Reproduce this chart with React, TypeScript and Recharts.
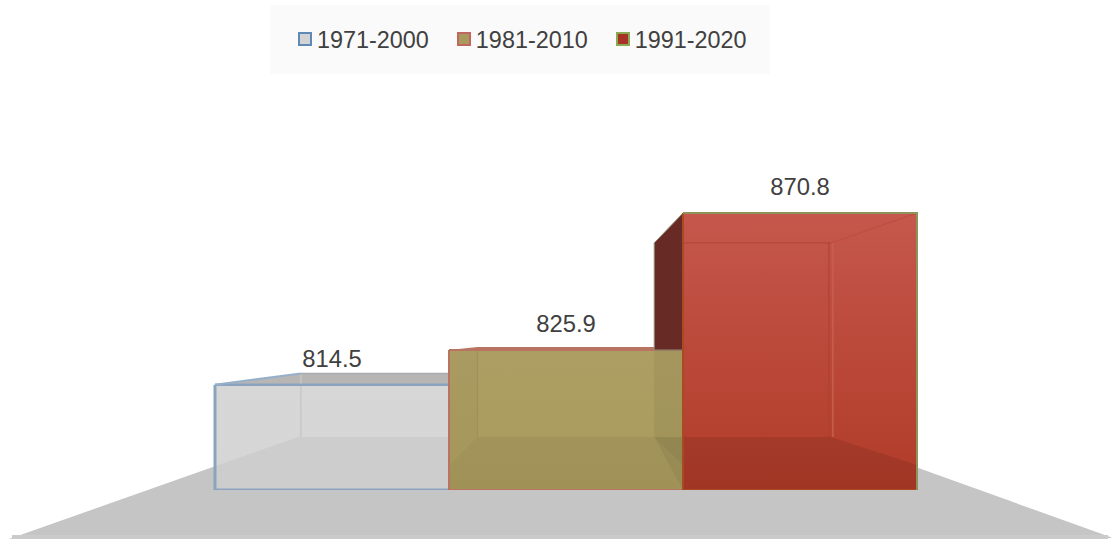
import React from 'react';
import { BarChart, Bar, XAxis, YAxis, Legend, LabelList, usePlotArea } from 'recharts';

const periods = ['1971-2000', '1981-2010', '1991-2020'];
const normals = [814.5, 825.9, 870.8];

const chartData = [
  Object.fromEntries([['category', ''], ...periods.map((p, i) => [p, normals[i]])])
];

const AXIS_MIN = 780;
const AXIS_MAX = 880;
const FONT = '"Liberation Sans", Arial, sans-serif';
const TEXT = '#404040';

const looks = [
  { top: '#cfcfcf', bottom: '#cecece', alpha: 0.84, edge: '#8ba3bf', lid: '#b8b6b5', swatch: '#d3d3d3', swatchEdge: '#5f8ab8' },
  { top: '#ad9f63', bottom: '#a99a5c', alpha: 1, edge: '#b87460', lid: '#b87460', swatch: '#a89a5c', swatchEdge: '#bf6660' },
  { top: '#c5574c', bottom: '#b13b28', alpha: 1, edge: '#8f925a', lid: '#c55a50', swatch: '#a93226', swatchEdge: '#8aab55' }
];

const floorShade = [0, 0.05, 0.09];

const pts = (list: number[][]) => list.map(p => p.join(',')).join(' ');

// perspective of the box, the back wall shrinks to the middle of the plot
const Floor = () => {
  const plot = usePlotArea();
  if (!plot) return null;
  const bottom = plot.y + plot.height;
  const left = plot.x;
  const right = plot.x + plot.width;
  return (
    <g>
      <polygon
        points={pts([
          [left + 83, bottom - 53],
          [right - 84, bottom - 53],
          [right + 197, bottom + 48],
          [left - 206, bottom + 49]
        ])}
        fill="#c5c5c5"
      />
      <rect x={left - 203} y={bottom + 45} width={1096} height={4} fill="#cbcbcb" />
    </g>
  );
};

const Box = (props: any) => {
  const { x, y, width, height, series } = props;
  const look = looks[series];
  const value = normals[series];
  const perUnit = height / (value - AXIS_MIN);
  const base = y + height;
  const mid = 565.5;
  const backX = (px: number) => mid + (px - mid) * 0.755;
  const backTop = y * 0.76 + 81;
  const backBase = base - 53;
  const lx = backX(x);
  const rx = backX(x + width);
  const gid = `box-fill-${series}`;
  const prevTop = series > 0 ? y + (value - normals[series - 1]) * perUnit : base;

  return (
    <g>
      <defs>
        <linearGradient id={gid} x1="0" y1="0" x2="0" y2="1">
          <stop offset="0%" stopColor={look.top} />
          <stop offset="100%" stopColor={look.bottom} />
        </linearGradient>
      </defs>

      {series === 2 && (
        <polygon points={pts([[lx, backTop], [x, y], [x, prevTop], [lx, prevTop]])} fill="#682a25" stroke="#8d8f78" strokeWidth={1} />
      )}
      {series === 2 && (
        <polygon points={pts([[lx, prevTop], [x, prevTop], [x, base], [lx, backBase]])} fill="#000" fillOpacity={0.05} />
      )}

      {backTop < y && (
        <polygon points={pts([[x, y], [lx, backTop], [rx, backTop], [x + width, y]])} fill={look.lid} />
      )}

      <rect x={x} y={y} width={width} height={height} fill={`url(#${gid})`} fillOpacity={look.alpha} />

      <polygon
        points={pts([[x, backBase + 28], [lx, backBase], [rx, backBase], [x + width, backBase + 28], [x + width, base], [x, base]])}
        fill="#000"
        fillOpacity={floorShade[series]}
      />

      {series === 0 && <line x1={lx} y1={backTop} x2={lx} y2={backBase} stroke="#c8c8c8" strokeWidth={1.5} />}
      {series === 1 && (
        <g>
          <polygon points={pts([[x, y], [lx, y], [lx, backBase], [x, backBase + 28]])} fill="#000" fillOpacity={0.02} />
          <line x1={lx} y1={y} x2={lx} y2={backBase} stroke="#a09257" strokeWidth={1.2} />
        </g>
      )}
      {series === 2 && (
        <g>
          <line x1={x} y1={backTop} x2={rx} y2={backTop} stroke="#b04237" strokeWidth={1} />
          <line x1={rx} y1={y + 30} x2={x + width} y2={y} stroke="#c04a3d" strokeWidth={1} />
          <line x1={rx + 2} y1={backTop} x2={rx + 2} y2={backBase} stroke="#c85f4d" strokeWidth={1.5} />
          <line x1={rx - 2} y1={backTop} x2={rx - 2} y2={backBase} stroke="#aa4032" strokeWidth={1} />
        </g>
      )}

      <path
        d={`M${x} ${y}V${base}H${x + width}`}
        fill="none"
        stroke={series === 2 ? '#a84a22' : look.edge}
        strokeWidth={series === 0 ? 3 : 2}
      />
      {series === 2 && <path d={`M${x} ${y}H${x + width}V${base}`} fill="none" stroke={look.edge} strokeWidth={2} />}
      {series === 1 && <line x1={x} y1={y} x2={x + width} y2={y} stroke={look.edge} strokeWidth={2} />}
      {series === 0 && (
        <g>
          <line x1={x} y1={y} x2={x + width} y2={y} stroke={look.edge} strokeWidth={2.5} />
          <line x1={x} y1={y} x2={lx} y2={backTop} stroke="#97b0ca" strokeWidth={2} />
          <line x1={lx} y1={backTop} x2={x + width} y2={backTop} stroke="#a7abb0" strokeWidth={1.5} />
        </g>
      )}
    </g>
  );
};

const PeriodLegend = ({ payload }: any) => (
  <div
    style={{
      width: 500,
      height: 69,
      background: '#fafafa',
      display: 'flex',
      alignItems: 'center',
      paddingLeft: 28,
      paddingTop: 2,
      boxSizing: 'border-box',
      fontFamily: FONT,
      fontSize: 23.4,
      color: TEXT,
      whiteSpace: 'nowrap'
    }}
  >
    {(payload || []).map((entry: any, i: number) => (
      <div key={entry.value} style={{ display: 'flex', flex: 'none', alignItems: 'center', marginRight: 28 }}>
        <span
          style={{
            width: 10,
            height: 10,
            marginRight: 5,
            marginTop: -4,
            background: looks[i].swatch,
            border: `2px solid ${looks[i].swatchEdge}`,
            display: 'inline-block'
          }}
        />
        <span>{entry.value}</span>
      </div>
    ))}
  </div>
);

export default function App() {
  return (
    <div style={{ position: 'absolute', left: 0, top: 0, width: 1111, height: 539, overflow: 'hidden' }}>
      <BarChart
        width={1111}
        height={539}
        data={chartData}
        margin={{ top: 185, right: 195, bottom: 49, left: 215 }}
        barCategoryGap={0}
        barGap={0}
      >
        <XAxis dataKey="category" hide />
        <YAxis hide domain={[AXIS_MIN, AXIS_MAX]} allowDataOverflow />
        <Floor />
        <Legend
          layout="horizontal"
          verticalAlign="middle"
          content={<PeriodLegend />}
          wrapperStyle={{ left: 270, top: 5, width: 500, height: 69 }}
        />
        {periods.map((p, i) => (
          <Bar
            key={p}
            dataKey={p}
            name={p}
            fill={looks[i].swatch}
            isAnimationActive={false}
            shape={(barProps: any) => <Box {...barProps} series={i} />}
          >
            <LabelList
              dataKey={p}
              position="top"
              offset={18}
              fill={TEXT}
              style={{ fontFamily: FONT, fontSize: 23.8 }}
            />
          </Bar>
        ))}
      </BarChart>
    </div>
  );
}
